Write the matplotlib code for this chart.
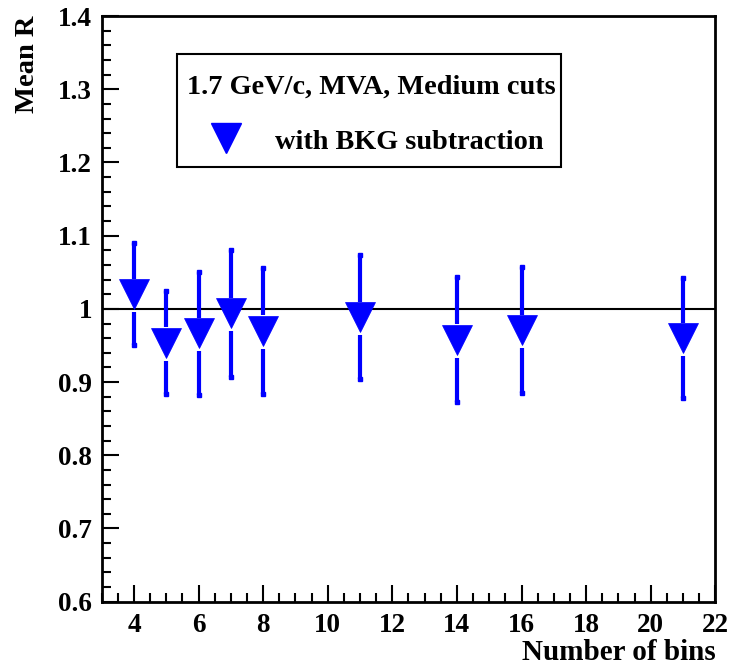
import matplotlib
matplotlib.use("Agg")
import matplotlib.pyplot as plt
from matplotlib.lines import Line2D
from matplotlib.patches import Rectangle

# data
n_bins = [4, 5, 6, 7, 8, 11, 14, 16, 21]
mean_r = [1.020, 0.954, 0.967, 0.994, 0.970, 0.989, 0.958, 0.971, 0.960]
mean_r_err = [0.070, 0.070, 0.084, 0.087, 0.086, 0.085, 0.085, 0.0855, 0.082]

legend_title = "1.7 GeV/c, MVA, Medium cuts"
series_label = "with BKG subtraction"

plt.rcParams["font.family"] = ["Liberation Serif", "DejaVu Serif"]
plt.rcParams["font.weight"] = "bold"

DPI = 100
BLUE = "#0000ff"
MS = 22  # marker size (pt)

fig = plt.figure(figsize=(7.31, 6.65), dpi=DPI)
ax = fig.add_axes([0.1391, 0.0952, 0.8394, 0.8807])
ax.set_xlim(3, 22)
ax.set_ylim(0.6, 1.4)

ax.axhline(1.0, color="black", lw=1.5, zorder=1)

# error bars split around the marker (ROOT style), gap converted via the axes scale
px_per_unit = ax.get_position().height * fig.get_figheight() * DPI / (1.4 - 0.6)
gap = (MS / 2 + 2) * DPI / 72 / px_per_unit
for xi, yi, ei in zip(n_bins, mean_r, mean_r_err):
    if ei > gap:
        ax.vlines(xi, yi + gap * 0.85, yi + ei, color=BLUE, lw=3, zorder=2)
        ax.vlines(xi, yi - ei, yi - gap, color=BLUE, lw=3, zorder=2)
    ax.plot([xi, xi], [yi - ei, yi + ei], ls="none", marker="s", ms=3.5,
            color=BLUE, mec=BLUE, zorder=2)
ax.plot(n_bins, mean_r, ls="none", marker="v", ms=MS, color=BLUE,
        mec=BLUE, mew=0.5, zorder=3)

# axis styling
for sp in ax.spines.values():
    sp.set_linewidth(2)
ax.set_xticks(range(4, 23, 2))
ax.set_xticks([v / 2 for v in range(6, 45)], minor=True)
ax.set_yticks([0.6, 0.7, 0.8, 0.9, 1.0, 1.1, 1.2, 1.3, 1.4])
ax.set_yticks([0.6 + 0.02 * i for i in range(41)], minor=True)
ax.set_yticklabels(["0.6", "0.7", "0.8", "0.9", "1", "1.1", "1.2", "1.3", "1.4"])
ax.tick_params(which="both", direction="in", top=False, right=False, labelsize=19.5, width=1.5)
ax.tick_params(which="major", length=12.5)
ax.tick_params(which="minor", length=6.5)
ax.tick_params(axis="y", pad=7)
ax.tick_params(axis="x", pad=8)

ax.set_xlabel("Number of bins", fontsize=21, fontweight="bold", loc="right", labelpad=1)
ax.set_ylabel("Mean R", fontsize=20.5, fontweight="bold", loc="top", labelpad=13)

# legend box drawn by hand
ax.add_patch(Rectangle((0.1227, 0.7422), 0.6258, 0.1929, transform=ax.transAxes,
                       fill=True, facecolor="white", edgecolor="black", lw=1.5, zorder=4))
ax.text(0.439, 0.8788, legend_title, transform=ax.transAxes, ha="center", va="center",
        fontsize=20.3, fontweight="bold", zorder=5)
ax.add_line(Line2D([0.2021], [0.7917], transform=ax.transAxes, ls="none", marker="v",
                   ms=MS, color=BLUE, mec=BLUE, zorder=5))
ax.text(0.2826, 0.7849, series_label, transform=ax.transAxes, ha="left", va="center",
        fontsize=20.3, fontweight="bold", zorder=5)

fig.savefig("out.png", dpi=DPI)
